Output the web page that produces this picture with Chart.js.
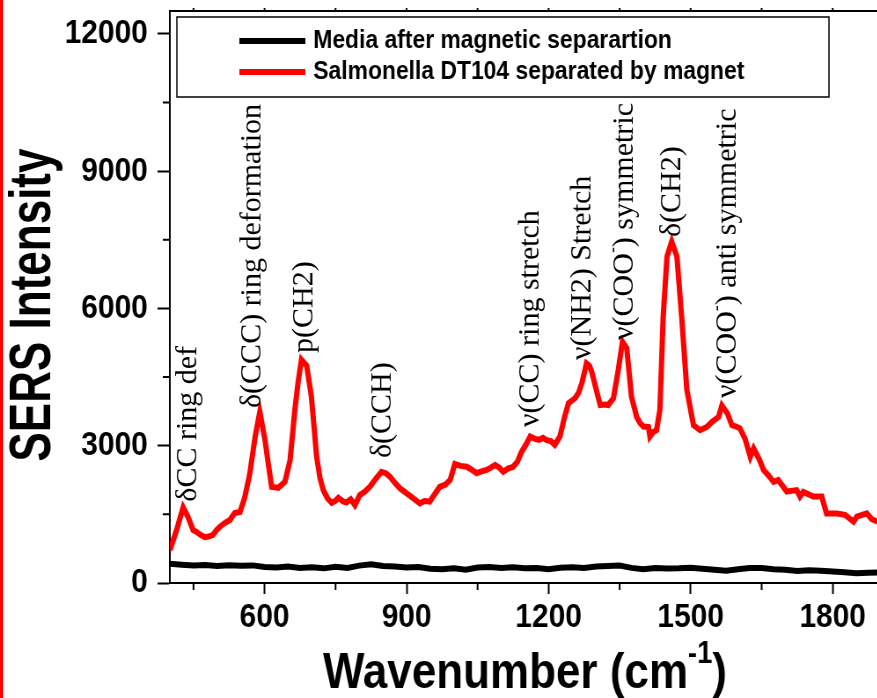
<!DOCTYPE html>
<html>
<head>
<meta charset="utf-8">
<script src="https://cdn.jsdelivr.net/npm/chart.js@4.4.0/dist/chart.umd.min.js"></script>
<style>
    html, body { margin: 0; padding: 0; background: #fff; overflow: hidden; }
    #wrap { position: absolute; left: 0; top: 0; width: 1000px; height: 698px; transform: scaleX(0.88); transform-origin: 0 0; }
    #redEdge { position: absolute; left: 0; top: 0; width: 3px; height: 698px; background: #ff0000; }
</style>
</head>
<body>
<div id="wrap"><canvas id="sersChart" width="1000" height="698"></canvas></div>
<div id="redEdge"></div>
<script>
    // Media after magnetic separation (black)
    var mediaWavenumber = [400, 425, 450, 475, 500, 525, 550, 575, 600, 625, 650, 675, 700, 725, 750, 775, 800, 825, 850, 875,
        900, 925, 950, 975, 1000, 1025, 1050, 1075, 1100, 1125, 1150, 1175, 1200, 1225, 1250, 1275, 1300, 1325, 1350, 1375,
        1400, 1425, 1450, 1475, 1500, 1525, 1550, 1575, 1600, 1625, 1650, 1675, 1700, 1725, 1750, 1775, 1800, 1825, 1850, 1875, 1895];
    var mediaIntensity = [420, 400, 380, 395, 370, 390, 375, 385, 350, 340, 360, 330, 345, 320, 355, 330, 380, 410, 370, 360,
        340, 350, 310, 300, 320, 290, 340, 350, 330, 345, 320, 330, 300, 335, 345, 330, 360, 370, 380, 330,
        300, 330, 315, 320, 335, 310, 290, 270, 300, 330, 330, 300, 290, 260, 280, 270, 250, 235, 215, 225, 230];

    // Salmonella DT104 separated by magnet (red)
    var salmWavenumber = [400, 414, 428, 438, 449, 456, 465, 474, 483, 491, 499, 508, 516, 527, 537, 548, 558, 569, 580, 590,
        601, 608, 615, 629, 643, 654, 664, 671, 678, 689, 699, 710, 717, 724, 733, 742, 750, 756, 766, 773,
        782, 791, 801, 812, 823, 835, 847, 856, 865, 876, 886, 900, 914, 928, 938, 949, 960, 970, 982, 992,
        1002, 1014, 1027, 1038, 1048, 1058, 1069, 1078, 1087, 1096, 1104, 1114, 1125, 1134, 1143, 1152, 1161, 1171, 1180, 1188,
        1196, 1205, 1213, 1224, 1233, 1242, 1256, 1263, 1270, 1280, 1286, 1291, 1300, 1309, 1318, 1326, 1337, 1347, 1356, 1365,
        1375, 1386, 1393, 1400, 1411, 1414, 1421, 1428, 1435, 1442, 1450, 1460, 1471, 1481, 1492, 1506, 1520, 1534, 1545, 1559,
        1566, 1578, 1587, 1596, 1604, 1615, 1626, 1633, 1645, 1654, 1666, 1675, 1685, 1703, 1724, 1731, 1738, 1759, 1777, 1787,
        1809, 1826, 1844, 1851, 1872, 1882, 1895];
    var salmIntensity = [720, 1150, 1650, 1450, 1160, 1120, 1050, 1000, 1020, 1050, 1160, 1250, 1310, 1380, 1530, 1550, 1860, 2400, 3190, 3740,
        3120, 2600, 2100, 2080, 2210, 2690, 3780, 4400, 4880, 4750, 4070, 2760, 2300, 2030, 1850, 1750, 1800, 1860, 1780, 1760,
        1830, 1700, 1920, 2000, 2110, 2280, 2430, 2400, 2320, 2180, 2070, 1960, 1850, 1740, 1790, 1780, 1950, 2100, 2150, 2250,
        2600, 2560, 2540, 2470, 2400, 2440, 2470, 2520, 2580, 2520, 2430, 2500, 2540, 2650, 2870, 3020, 3200, 3150, 3130, 3170,
        3120, 3100, 3020, 3200, 3600, 3930, 4040, 4150, 4360, 4800, 4750, 4620, 4250, 3890, 3900, 3890, 4040, 4650, 5270, 5130,
        4070, 3630, 3500, 3420, 3410, 3200, 3300, 3340, 3780, 5820, 7130, 7460, 7130, 5820, 4220, 3450, 3340, 3410, 3520, 3630,
        3880, 3700, 3450, 3420, 3380, 3150, 2760, 2940, 2700, 2470, 2330, 2210, 2250, 2000, 2030, 1890, 1990, 1890, 1890, 1520,
        1520, 1490, 1340, 1450, 1520, 1400, 1340];

    var xTickValues = [450, 600, 750, 900, 1050, 1200, 1350, 1500, 1650, 1800];
    var yTickValues = [0, 1500, 3000, 4500, 6000, 7500, 9000, 10500, 12000];

    // peak assignments, placed at (wavenumber, intensity) where the text starts
    var peakLabels = ['\u03b4CC ring def', '\u03b4(CCC) ring deformation', 'p(CH2)', '\u03b4(CCH)', '\u03bd(CC) ring stretch',
        '\u03bd(NH2) Stretch', '\u03bd(COO\u207b) symmetric', '\u03b4(CH2)', '\u03bd(COO\u207b) anti symmetric'];
    var peakX = [439, 575, 685, 850, 1163, 1271, 1361, 1461, 1579];
    var peakY = [1776, 3824, 5026, 2731, 3409, 4873, 5310, 7560, 4042];

    function toPoints(xs, ys) {
        return xs.map(function (x, i) { return { x: x, y: ys[i] }; });
    }

    var sansBold = '"Liberation Sans", Arial, Helvetica, sans-serif';
    var serifFont = '"Liberation Serif", "Times New Roman", serif';
    var squeeze = 0.88; // matches the css scaleX on #wrap

    function majorX(v) { return v % 300 === 0; }
    function majorY(v) { return v % 3000 === 0; }

    // draws text, turning the superscript minus into a small raised "-"
    function drawWithSup(c, text, size) {
        var parts = text.split('\u207b');
        var x = 0;
        parts.forEach(function (p, i) {
            c.font = size + 'px ' + serifFont;
            c.fillText(p, x, 0);
            x += c.measureText(p).width;
            if (i < parts.length - 1) {
                c.font = Math.round(size * 0.6) + 'px ' + serifFont;
                c.fillText('-', x, -size * 0.38);
                x += c.measureText('-').width;
            }
        });
    }

    var framePlugin = {
        id: 'frame',
        afterDatasetsDraw: function (chart) {
            var c = chart.ctx, a = chart.chartArea;
            var xs = chart.scales.x, ys = chart.scales.y;
            c.save();
            c.strokeStyle = '#000';
            c.lineWidth = 2;
            // top border
            c.beginPath();
            c.moveTo(a.left, a.top);
            c.lineTo(a.right, a.top);
            c.stroke();
            // short minor ticks, plus tiny ticks on the top border
            c.beginPath();
            xTickValues.forEach(function (v) {
                var px = xs.getPixelForValue(v);
                c.moveTo(px, a.top);
                c.lineTo(px, a.top - 3);
                if (majorX(v)) return;
                c.moveTo(px, a.bottom);
                c.lineTo(px, a.bottom + 7);
            });
            yTickValues.forEach(function (v) {
                if (majorY(v)) return;
                var py = ys.getPixelForValue(v);
                c.moveTo(a.left, py);
                c.lineTo(a.left - 8, py);
            });
            c.stroke();

            // peak labels (rotated, un-squeezed across)
            c.fillStyle = '#000';
            c.textAlign = 'left';
            c.textBaseline = 'middle';
            peakLabels.forEach(function (t, i) {
                c.save();
                c.translate(xs.getPixelForValue(peakX[i]), ys.getPixelForValue(peakY[i]));
                c.rotate(-Math.PI / 2);
                c.scale(1, 1 / squeeze);
                drawWithSup(c, t, 30);
                c.restore();
            });

            // y axis title
            c.save();
            c.font = 'bold 44px ' + sansBold;
            c.textAlign = 'center';
            c.textBaseline = 'middle';
            c.translate(39, (a.top + a.bottom) / 2 + 8);
            c.rotate(-Math.PI / 2);
            c.scale(1, 1.5);
            c.fillText('SERS Intensity', 0, 0);
            c.restore();

            // legend box inside the plot
            var bx = a.left + 8, by = a.top + 6, bw = 741, bh = 80;
            c.fillStyle = '#fff';
            c.fillRect(bx, by, bw, bh);
            c.lineWidth = 1.5;
            c.strokeStyle = '#000';
            c.strokeRect(bx, by, bw, bh);
            c.font = 'bold 26px ' + sansBold;
            c.textBaseline = 'middle';
            c.textAlign = 'left';
            chart.data.datasets.forEach(function (ds, i) {
                var ly = by + 24 + i * 31;
                c.strokeStyle = ds.borderColor;
                c.lineWidth = 6;
                c.beginPath();
                c.moveTo(bx + 71, ly);
                c.lineTo(bx + 146, ly);
                c.stroke();
                c.fillStyle = '#000';
                c.fillText(ds.label, bx + 155, ly);
            });

            // x axis title with superscript
            var main1 = 'Wavenumber (cm', sup = '-1', main2 = ')';
            var fMain = 'bold 50px ' + sansBold, fSup = 'bold 31px ' + sansBold;
            c.font = fMain;
            var w1 = c.measureText(main1).width, w3 = c.measureText(main2).width;
            c.font = fSup;
            var w2 = c.measureText(sup).width;
            var tx = (a.left + a.right) / 2 - (w1 + w2 + w3) / 2;
            var baseY = 688;
            c.textBaseline = 'alphabetic';
            c.font = fMain;
            c.fillText(main1, tx, baseY);
            c.font = fSup;
            c.fillText(sup, tx + w1, baseY - 25);
            c.font = fMain;
            c.fillText(main2, tx + w1 + w2, baseY);
            c.restore();
        }
    };

    var ctx = document.getElementById('sersChart').getContext('2d');

    var sersChart = new Chart(ctx, {
        type: 'line',
        data: {
            datasets: [{
                label: 'Media after magnetic separartion',
                data: toPoints(mediaWavenumber, mediaIntensity),
                borderColor: '#000000',
                borderWidth: 6,
                pointRadius: 0,
                tension: 0
            }, {
                label: 'Salmonella DT104 separated by magnet',
                data: toPoints(salmWavenumber, salmIntensity),
                borderColor: '#ff0000',
                borderWidth: 6,
                pointRadius: 0,
                tension: 0
            }]
        },
        options: {
            responsive: false,
            animation: false,
            layout: { padding: { top: 11, right: 0, bottom: 0, left: 0 } },
            plugins: {
                legend: { display: false },
                tooltip: { enabled: false }
            },
            scales: {
                x: {
                    type: 'linear',
                    min: 400,
                    max: 1900,
                    afterBuildTicks: function (s) { s.ticks = xTickValues.map(function (v) { return { value: v }; }); },
                    afterFit: function (s) { s.height = 115; s.paddingLeft = 0; s.paddingRight = 0; },
                    grid: {
                        drawOnChartArea: false, drawTicks: true, tickLength: 11, tickWidth: 2,
                        tickColor: function (c) { return c.tick && majorX(c.tick.value) ? '#000' : 'rgba(0,0,0,0)'; }
                    },
                    border: { display: true, color: '#000', width: 2 },
                    ticks: {
                        color: '#000',
                        padding: 3,
                        maxRotation: 0,
                        autoSkip: false,
                        font: { family: sansBold, size: 34, weight: 'bold' },
                        callback: function (v) { return majorX(v) ? String(v) : ''; }
                    }
                },
                y: {
                    min: 0,
                    max: 12500,
                    afterBuildTicks: function (s) { s.ticks = yTickValues.map(function (v) { return { value: v }; }); },
                    afterFit: function (s) { s.width = 193; s.paddingTop = 0; s.paddingBottom = 0; },
                    grid: {
                        drawOnChartArea: false, drawTicks: true, tickLength: 14, tickWidth: 2,
                        tickColor: function (c) { return c.tick && majorY(c.tick.value) ? '#000' : 'rgba(0,0,0,0)'; }
                    },
                    border: { display: true, color: '#000', width: 2 },
                    ticks: {
                        color: '#000',
                        padding: 11,
                        autoSkip: false,
                        font: { family: sansBold, size: 34, weight: 'bold' },
                        callback: function (v) { return majorY(v) ? String(v) : ''; }
                    }
                }
            }
        },
        plugins: [framePlugin]
    });
</script>
</body>
</html>
